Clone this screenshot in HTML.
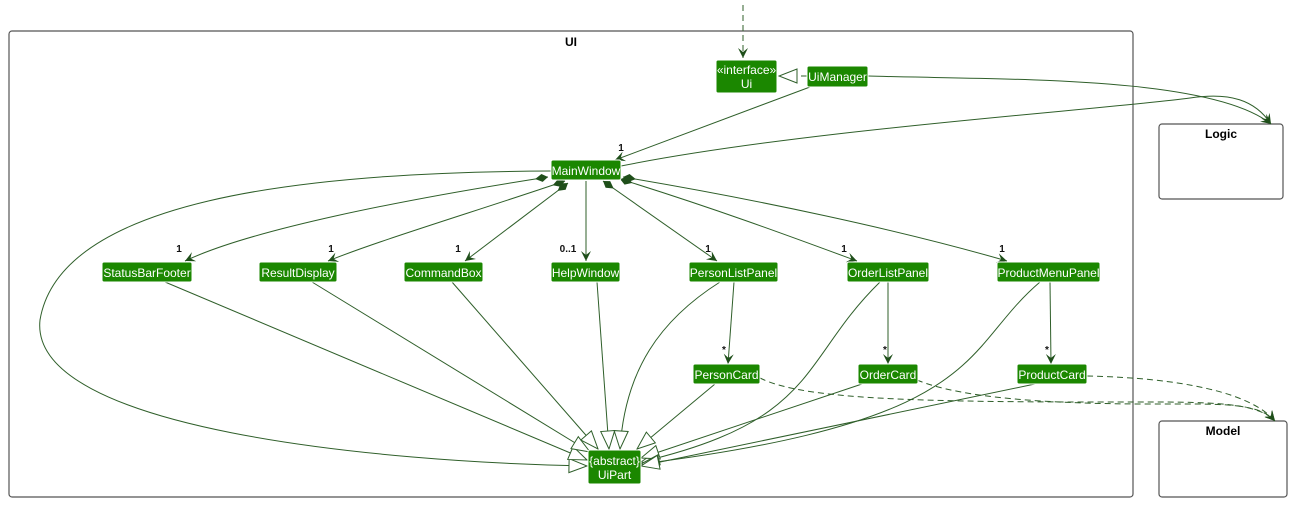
<!DOCTYPE html>
<html><head><meta charset="utf-8"><style>
html,body{margin:0;padding:0;background:#fff;width:1299px;height:519px;overflow:hidden}
svg{display:block}
text{font-family:"Liberation Sans",sans-serif}
.n{fill:#1b8700;stroke:#fff;stroke-width:1}
.t{fill:#fff;font-size:12px;text-anchor:middle}
.e{fill:none;stroke:#2f5f2a;stroke-width:1}
.d{fill:none;stroke:#2f5f2a;stroke-width:1;stroke-dasharray:6,4}
.l{font-size:10px;font-weight:bold;fill:#111;text-anchor:middle}
</style></head><body>
<svg width="1299" height="519" viewBox="0 0 1299 519" xmlns="http://www.w3.org/2000/svg">
<defs>
<marker id="a" viewBox="0 0 12 12" refX="11" refY="6" markerWidth="12" markerHeight="12" orient="auto" markerUnits="userSpaceOnUse">
<path d="M1,1 L11,6 L1,11 L5,6 Z" fill="#1f4f1a"/></marker>
<marker id="h" viewBox="0 0 20 20" refX="19" refY="10" markerWidth="20" markerHeight="20" orient="auto" markerUnits="userSpaceOnUse">
<path d="M1,3 L19,10 L1,17 Z" fill="#fff" stroke="#2f5f2a"/></marker>
<marker id="dm" viewBox="0 0 16 10" refX="1" refY="5" markerWidth="16" markerHeight="10" orient="auto" markerUnits="userSpaceOnUse">
<path d="M1,5 L7,1 L14,5 L7,9 Z" fill="#1f4f1a"/></marker>
</defs>
<rect x="9" y="31" width="1124" height="466" rx="3" fill="none" stroke="#555" stroke-width="1.2"/>
<text x="571" y="46" font-size="12" font-weight="bold" text-anchor="middle">UI</text>
<rect x="1159" y="124" width="124" height="75" rx="3" fill="#fff" stroke="#555" stroke-width="1.2"/>
<text x="1221" y="138" font-size="12" font-weight="bold" text-anchor="middle">Logic</text>
<rect x="1159" y="421" width="128" height="76" rx="3" fill="#fff" stroke="#555" stroke-width="1.2"/>
<text x="1223" y="435" font-size="12" font-weight="bold" text-anchor="middle">Model</text>

<!-- edges -->
<path class="d" d="M743,5 L743,58" marker-end="url(#a)"/>
<path class="d" d="M807,76 L779,76" marker-end="url(#h)"/>
<path class="e" d="M810,87 L615,160" marker-end="url(#a)"/>
<text class="l" x="621" y="151">1</text>
<path class="e" d="M868,76 C1000,80 1210,75 1271,124" marker-end="url(#a)"/>
<path class="e" d="M621,166 C800,130 1100,110 1190,98 C1230,92 1255,100 1271,124" marker-end="url(#a)"/>

<path class="e" d="M548,177 C400,200 250,230 185,261" marker-start="url(#dm)" marker-end="url(#a)"/>
<path class="e" d="M565,181 C480,210 380,240 328,261" marker-start="url(#dm)" marker-end="url(#a)"/>
<path class="e" d="M568,183 L465,261" marker-start="url(#dm)" marker-end="url(#a)"/>
<path class="e" d="M586,181 L586,261" marker-end="url(#a)"/>
<path class="e" d="M603,181 L717,261" marker-start="url(#dm)" marker-end="url(#a)"/>
<path class="e" d="M620,179 C720,210 800,240 857,261" marker-start="url(#dm)" marker-end="url(#a)"/>
<path class="e" d="M623,177 C760,200 900,230 1007,261" marker-start="url(#dm)" marker-end="url(#a)"/>
<text class="l" x="179" y="252">1</text>
<text class="l" x="331" y="252">1</text>
<text class="l" x="458" y="252">1</text>
<text class="l" x="568" y="252">0..1</text>
<text class="l" x="708" y="252">1</text>
<text class="l" x="844" y="252">1</text>
<text class="l" x="1002" y="252">1</text>

<path class="e" d="M734,282 L728,364" marker-end="url(#a)"/>
<path class="e" d="M888,282 L888,364" marker-end="url(#a)"/>
<path class="e" d="M1050,282 L1051,364" marker-end="url(#a)"/>
<text class="l" x="724" y="353">*</text>
<text class="l" x="885" y="353">*</text>
<text class="l" x="1047" y="353">*</text>

<path class="e" d="M551,171 C300,172 60,200 40,320 C28,430 380,462 587,466" marker-end="url(#h)"/>
<path class="e" d="M165,282 L587,460" marker-end="url(#h)"/>
<path class="e" d="M312,282 L590,452" marker-end="url(#h)"/>
<path class="e" d="M452,282 L598,449" marker-end="url(#h)"/>
<path class="e" d="M597,282 L609,449" marker-end="url(#h)"/>
<path class="e" d="M720,282 C660,320 625,370 620,449" marker-end="url(#h)"/>
<path class="e" d="M715,384 L637,449" marker-end="url(#h)"/>
<path class="e" d="M880,282 C800,360 820,420 641,462" marker-end="url(#h)"/>
<path class="e" d="M862,384 L641,458" marker-end="url(#h)"/>
<path class="e" d="M1040,282 C960,350 990,420 641,464" marker-end="url(#h)"/>
<path class="e" d="M1035,384 L641,466" marker-end="url(#h)"/>

<path class="d" d="M760,378 C800,398 900,402 1100,402 C1200,402 1255,400 1275,421" marker-end="url(#a)"/>
<path class="d" d="M917,380 C960,398 1050,404 1150,404 C1220,404 1258,402 1275,421" marker-end="url(#a)"/>
<path class="d" d="M1087,376 C1180,378 1250,392 1275,421" marker-end="url(#a)"/>

<!-- nodes -->
<rect class="n" x="716" y="60" width="61" height="33" rx="2"/>
<text class="t" x="746.5" y="74">«interface»</text><text class="t" x="746.5" y="88">Ui</text>
<rect class="n" x="807" y="66" width="61" height="21" rx="2"/><text class="t" x="837.5" y="81">UiManager</text>
<rect class="n" x="551" y="160" width="70" height="20" rx="2"/><text class="t" x="586" y="175">MainWindow</text>
<rect class="n" x="102" y="262" width="90" height="20" rx="2"/><text class="t" x="147" y="277">StatusBarFooter</text>
<rect class="n" x="259" y="262" width="78" height="20" rx="2"/><text class="t" x="298" y="277">ResultDisplay</text>
<rect class="n" x="404" y="262" width="79" height="20" rx="2"/><text class="t" x="443.5" y="277">CommandBox</text>
<rect class="n" x="551" y="262" width="69" height="20" rx="2"/><text class="t" x="585.5" y="277">HelpWindow</text>
<rect class="n" x="689" y="262" width="89" height="20" rx="2"/><text class="t" x="733.5" y="277">PersonListPanel</text>
<rect class="n" x="847" y="262" width="82" height="20" rx="2"/><text class="t" x="888" y="277">OrderListPanel</text>
<rect class="n" x="997" y="262" width="103" height="20" rx="2"/><text class="t" x="1048.5" y="277">ProductMenuPanel</text>
<rect class="n" x="693" y="364" width="67" height="20" rx="2"/><text class="t" x="726.5" y="379">PersonCard</text>
<rect class="n" x="858" y="364" width="60" height="20" rx="2"/><text class="t" x="888" y="379">OrderCard</text>
<rect class="n" x="1017" y="364" width="70" height="20" rx="2"/><text class="t" x="1052" y="379">ProductCard</text>
<rect class="n" x="588" y="450" width="53" height="34" rx="2"/>
<text class="t" x="614.5" y="465">{abstract}</text><text class="t" x="614.5" y="479">UiPart</text>
</svg>
</body></html>
